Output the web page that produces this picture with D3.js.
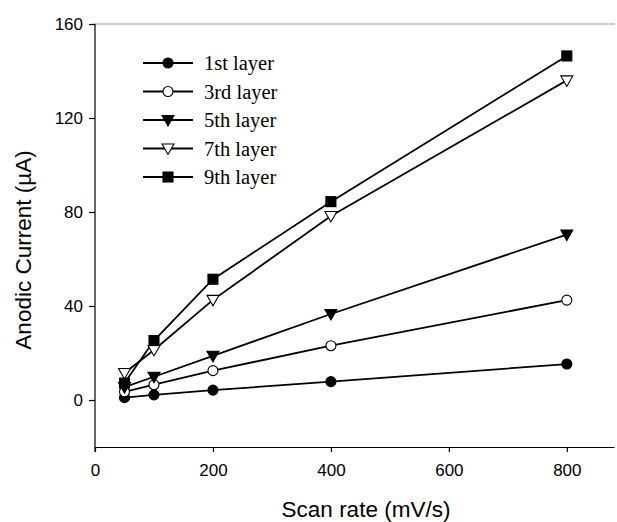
<!DOCTYPE html>
<html>
<head>
<meta charset="utf-8">
<script src="https://cdn.jsdelivr.net/npm/d3@7"></script>
<style>
  body { margin: 0; background: #fff; }
</style>
</head>
<body>
<div id="chart"></div>
<script>
var w = 617;
var h = 522;

// scan rates (mV/s)
var scanRates = [50, 100, 200, 400, 800];
// anodic current (uA) per layer
var layer1 = [1.0, 2.2, 4.2, 7.8, 15.3];
var layer3 = [3.5, 6.5, 12.5, 23.1, 42.5];
var layer5 = [5.5, 9.9, 18.8, 36.6, 70.4];
var layer7 = [11.5, 21.3, 42.6, 78.3, 136.0];
var layer9 = [7.2, 25.3, 51.4, 84.4, 146.4];
var seriesNames = ["1st layer", "3rd layer", "5th layer", "7th layer", "9th layer"];
var xTicks = [0, 200, 400, 600, 800];
var yTicks = [0, 40, 80, 120, 160];

var series = [
  {name: seriesNames[0], values: layer1, shape: "circle", fill: "#000"},
  {name: seriesNames[1], values: layer3, shape: "circle", fill: "#fff"},
  {name: seriesNames[2], values: layer5, shape: "tri", fill: "#000"},
  {name: seriesNames[3], values: layer7, shape: "tri", fill: "#fff"},
  {name: seriesNames[4], values: layer9, shape: "square", fill: "#000"}
];

var xScale = d3.scaleLinear()
              .domain([0, 880])
              .range([95, 614]);

var yScale = d3.scaleLinear()
              .domain([-20, 160])
              .range([447, 24]);

var svg = d3.select("#chart")
            .append("svg")
            .attr("width", w)
            .attr("height", h);

// top frame line (grey in the scan)
svg.append("line")
  .attr("x1", 93).attr("x2", 615)
  .attr("y1", yScale(160)).attr("y2", yScale(160))
  .attr("stroke", "#999")
  .attr("stroke-width", 1.2);

var xAxis = svg.append("g")
  .attr("transform", "translate(0," + yScale(-20) + ")")
  .call(d3.axisBottom(xScale).tickValues(xTicks).tickSize(5).tickSizeOuter(0).tickPadding(12));

var yAxis = svg.append("g")
  .attr("transform", "translate(" + xScale(0) + ",0)")
  .call(d3.axisLeft(yScale).tickValues(yTicks).tickSize(6).tickSizeOuter(0).tickPadding(6));

[xAxis, yAxis].forEach(function(g) {
  g.select(".domain").attr("stroke", "#000").attr("stroke-width", 1.2);
  g.selectAll(".tick line").attr("stroke", "#000").attr("stroke-width", 1.2);
  g.selectAll(".tick text")
    .attr("fill", "#000")
    .attr("font-family", "'Liberation Sans', Arial, sans-serif")
    .attr("font-size", 17);
});
yAxis.select(".domain").attr("d", "M0," + yScale(160) + "V" + (yScale(-20) + 5));

// axis titles
svg.append("text")
  .attr("x", 366)
  .attr("y", 517)
  .attr("text-anchor", "middle")
  .attr("font-family", "'Liberation Sans', Arial, sans-serif")
  .attr("font-size", 22.5)
  .text("Scan rate (mV/s)");

svg.append("text")
  .attr("transform", "translate(31," + 250 + ") rotate(-90)")
  .attr("text-anchor", "middle")
  .attr("font-family", "'Liberation Sans', Arial, sans-serif")
  .attr("font-size", 22.5)
  .text("Anodic Current (\u00b5A)");

function drawMarker(g, s) {
  if (s.shape == "circle") {
    g.append("circle").attr("r", 5);
  } else if (s.shape == "square") {
    g.append("rect").attr("x", -5).attr("y", -5).attr("width", 10).attr("height", 10);
  } else {
    g.append("path").attr("d", "M-6,-4.5L6,-4.5L0,6Z");
  }
  g.selectAll("*")
    .attr("fill", s.fill)
    .attr("stroke", "#000")
    .attr("stroke-width", 1.1);
}

var line = d3.line()
  .x(function(d, i) { return xScale(scanRates[i]); })
  .y(function(d) { return yScale(d); });

series.forEach(function(s) {
  svg.append("path")
    .attr("d", line(s.values))
    .attr("fill", "none")
    .attr("stroke", "#000")
    .attr("stroke-width", 1.8);
});

series.forEach(function(s) {
  s.values.forEach(function(v, i) {
    var g = svg.append("g")
      .attr("transform", "translate(" + xScale(scanRates[i]) + "," + yScale(v) + ")");
    drawMarker(g, s);
  });
});

// legend
var legend = svg.append("g");
series.forEach(function(s, i) {
  var y = 63 + i * 28.5;
  legend.append("line")
    .attr("x1", 143).attr("x2", 193)
    .attr("y1", y).attr("y2", y)
    .attr("stroke", "#000")
    .attr("stroke-width", 1.8);
  var g = legend.append("g").attr("transform", "translate(168," + y + ")");
  drawMarker(g, s);
  legend.append("text")
    .attr("x", 204)
    .attr("y", y + 7)
    .attr("font-family", "'Liberation Serif', 'Times New Roman', serif")
    .attr("font-size", 20.5)
    .text(s.name);
});
</script>
</body>
</html>
